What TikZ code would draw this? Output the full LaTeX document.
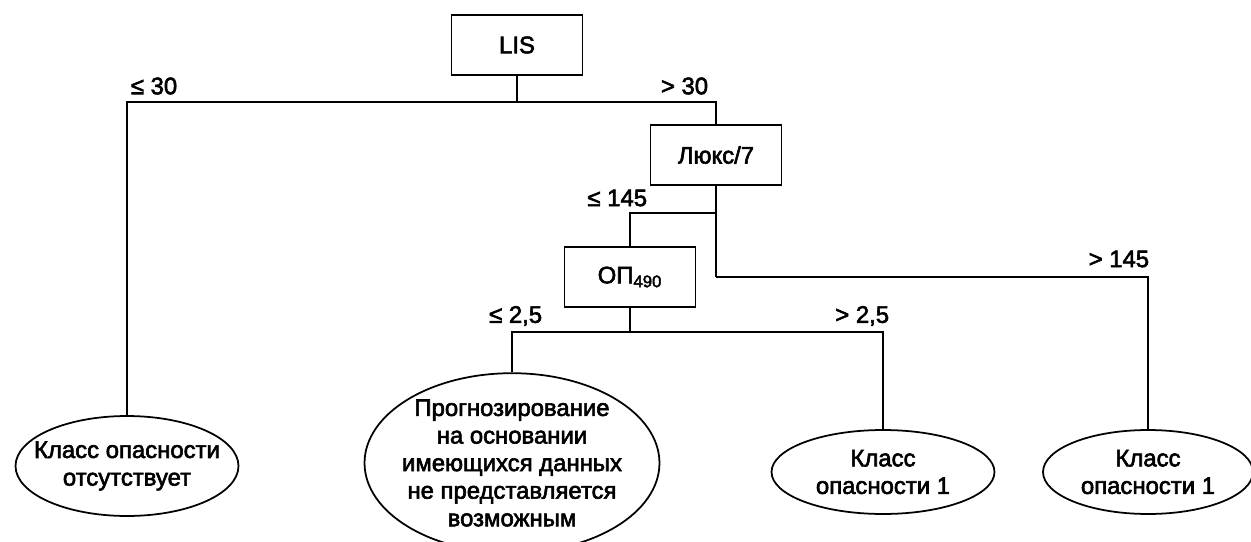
\documentclass[tikz,border=0pt]{standalone}
\usepackage{fontspec}
\setmainfont{Liberation Sans}
\newfontfamily\treefont{Liberation Sans}[FakeBold=2.5]
\usepackage{tikz}
\usetikzlibrary{positioning, shapes.geometric}

\begin{document}
\begin{tikzpicture}[
  x=0.02cm, y=-0.02cm,
  font=\treefont\fontsize{13.6}{15.7}\selectfont,
  line width=1pt,
  test/.style={draw, rectangle, minimum width=2.62cm, minimum height=1.2cm, align=center, inner sep=0pt},
  leaf/.style={draw, ellipse, align=center, inner xsep=-0.5cm, inner ysep=0pt},
  cond/.style={inner sep=0pt}
]
\useasboundingbox (0,0) rectangle (1251,541);

\node[test] (lis) at (517,45)  {LIS};
\node[test] (lux) at (716,155) {Люкс/7};
\node[test] (op)  at (630,277) {ОП\textsubscript{490}};

\node[leaf, minimum width=4.46cm, minimum height=2.0cm]  (l1) at (127,466)  {Класс опасности\\отсутствует};
\node[leaf, minimum width=5.9cm,  minimum height=3.2cm]  (l2) at (512,463)  {Прогнозирование\\на основании\\имеющихся данных\\не представляется\\возможным};
\node[leaf, minimum width=4.46cm, minimum height=1.68cm] (l3) at (883,472)  {Класс\\опасности 1};
\node[leaf, minimum width=4.2cm,  minimum height=1.68cm] (l4) at (1148,472) {Класс\\опасности 1};

\coordinate (j1) at (517,102);
\coordinate (j2) at (716,213);
\coordinate (j3) at (716,277);
\coordinate (j4) at (630,332);

\draw (lis) -- (j1);
\draw (l1) |- (j1) -| (lux);
\draw (lux) -- (j3);
\draw (op) |- (j2);
\draw (j3) -| (l4);
\draw (op) -- (j4);
\draw (l2) |- (j4) -| (l3);

\node[cond, anchor=west] (c1) at (130,86)  {≤ 30};
\node[cond, anchor=east] (c2) at (709,86)  {> 30};
\node[cond, anchor=east] (c3) at (648,198) {≤ 145};
\node[cond, anchor=east] (c4) at (1150,259) {> 145};
\node[cond, anchor=east] (c5) at (543,316) {≤ 2,5};
\node[cond, anchor=east] (c6) at (890,316) {> 2,5};
\end{tikzpicture}
\end{document}
